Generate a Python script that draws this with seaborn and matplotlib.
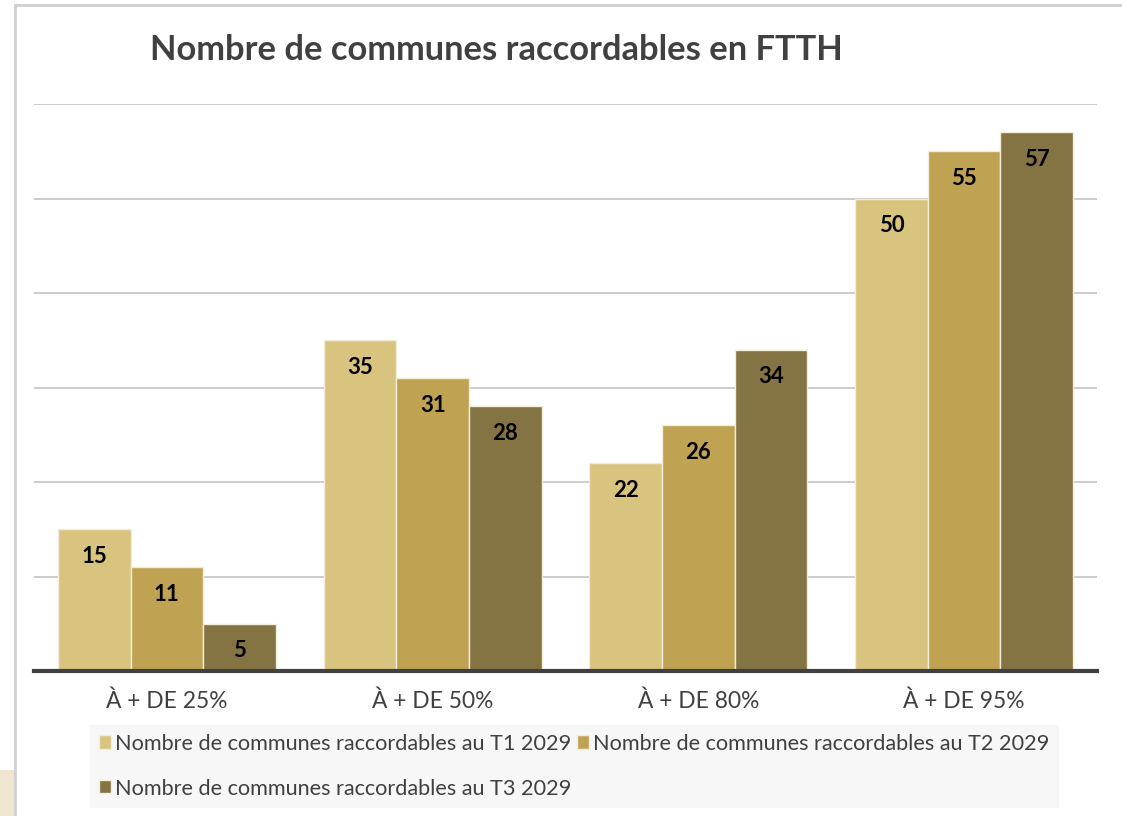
import matplotlib
matplotlib.use("Agg")
import matplotlib.pyplot as plt
from matplotlib.patches import Rectangle
from matplotlib.lines import Line2D
import seaborn as sns
import pandas as pd

categories = ["À + DE 25%", "À + DE 50%", "À + DE 80%", "À + DE 95%"]
series_names = [
    "Nombre de communes raccordables au T1 2029",
    "Nombre de communes raccordables au T2 2029",
    "Nombre de communes raccordables au T3 2029",
]
t1_values = [15, 35, 22, 50]
t2_values = [11, 31, 26, 55]
t3_values = [5, 28, 34, 57]
colors = ["#D9C47F", "#BFA353", "#857443"]

rows = []
for name, vals in zip(series_names, [t1_values, t2_values, t3_values]):
    for c, v in zip(categories, vals):
        rows.append({"cat": c, "serie": name, "val": v})
df = pd.DataFrame(rows)

sns.set_theme(style="white")
FONT = ["Lato", "DejaVu Sans"]
plt.rcParams["font.family"] = FONT

fig = plt.figure(figsize=(11.22, 8.16), dpi=100)
fig.patch.set_facecolor("white")
ax = fig.add_axes([34 / 1122, 1 - 671 / 816, (1097 - 34) / 1122, (671 - 104) / 816])

sns.barplot(data=df, x="cat", y="val", hue="serie", order=categories,
            hue_order=series_names, palette=colors, width=0.82, gap=0,
            saturation=1, edgecolor="#f2ecd8", linewidth=1, ax=ax, zorder=3)

ax.set_ylim(0, 60)
ax.set_xlim(-0.5, 3.5)
ax.set_yticks([10, 20, 30, 40, 50, 60])
ax.yaxis.grid(True, color="#c4c4c4", linewidth=1.2, zorder=0)
ax.set_axisbelow(True)
ax.tick_params(axis="y", left=False, labelleft=False)
ax.tick_params(axis="x", bottom=False, pad=8, labelsize=16.4, labelcolor="#404040")
ax.set_xlabel("")
ax.set_ylabel("")
for s in ["left", "right", "top"]:
    ax.spines[s].set_visible(False)
ax.spines["bottom"].set_color("#404040")
ax.spines["bottom"].set_linewidth(3)
ax.spines["bottom"].set_zorder(5)

for cont in ax.containers:
    ax.bar_label(cont, labels=[f"{int(v)}" for v in cont.datavalues],
                 padding=-27, fontsize=16, fontweight="bold", color="black", zorder=6)

handles, labels = ax.get_legend_handles_labels()
ax.get_legend().remove()
order = [0, 2, 1]  # column-major fill so rows read T1, T2 / T3
leg = fig.legend([handles[i] for i in order], [labels[i] for i in order],
                 loc="upper left",
                 bbox_to_anchor=(90 / 1122, 1 - 725 / 816),
                 ncol=2, frameon=True, fancybox=False, facecolor="#f7f7f7",
                 edgecolor="#f7f7f7", framealpha=1, fontsize=15.6,
                 handlelength=0.55, handleheight=0.55, handletextpad=0.2,
                 columnspacing=0.25, borderpad=0.4, labelspacing=1.15,
                 borderaxespad=0)
for t in leg.get_texts():
    t.set_color("#404040")

fig.text(150 / 1122, 1 - 50 / 816, "Nombre de communes raccordables en FTTH",
         ha="left", va="center", fontsize=24.8, fontweight="bold", color="#404040")

# surrounding frame decorations
fig.add_artist(Line2D([15 / 1122, 15 / 1122], [0, 1 - 5 / 816], transform=fig.transFigure,
                      color="#cfcfcf", linewidth=2))
fig.add_artist(Line2D([15 / 1122, 1], [1 - 5 / 816, 1 - 5 / 816], transform=fig.transFigure,
                      color="#cfcfcf", linewidth=2))
fig.add_artist(Rectangle((0, 0), 14 / 1122, 46 / 816, transform=fig.transFigure,
                         facecolor="#efe6d2", edgecolor="none"))

fig.savefig("out.png", dpi=100)
